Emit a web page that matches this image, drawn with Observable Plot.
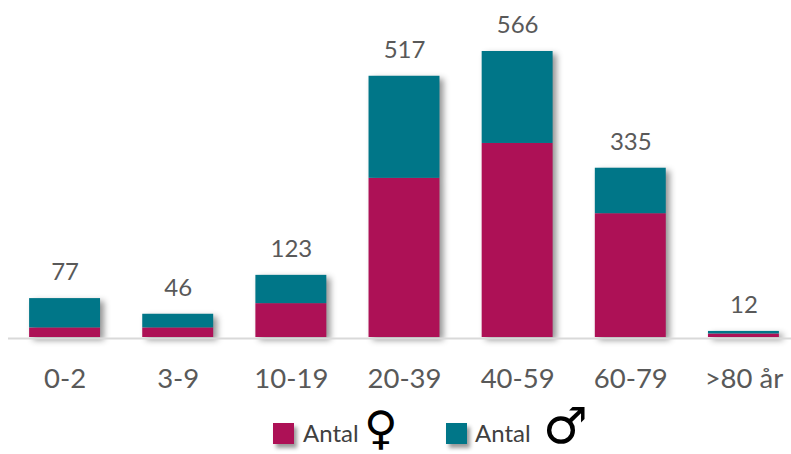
<!DOCTYPE html>
<html>
<head>
<meta charset="utf-8">
<script src="https://cdn.jsdelivr.net/npm/d3@7"></script>
<script src="https://cdn.jsdelivr.net/npm/@observablehq/plot@0.6"></script>
<style>
  html, body { margin: 0; padding: 0; background: #fff; overflow: hidden; }
  body { width: 791px; height: 454px; font-family: Lato, sans-serif; position: relative; }
  #chart svg { display: block; overflow: hidden; }
  .legend { position: absolute; left: 0; top: 405px; width: 791px; height: 49px; color: #404040; font-size: 24px; }
  .swatch { position: absolute; top: 18px; width: 21px; height: 21px; box-shadow: 3px 4px 4px rgba(0,0,0,.4); }
  .name { position: absolute; top: 15px; line-height: 26px; }
  .sym { position: absolute; color: #000; font-family: "DejaVu Sans", sans-serif; font-weight: bold; line-height: 0.8; }
</style>
</head>
<body>
<div id="chart"></div>
<div class="legend">
  <span class="swatch" style="left:273px;background:#ad1156"></span>
  <span class="name" style="left:303px">Antal</span>
  <span class="sym" style="left:364px;top:5px;font-size:46px">♀</span>
  <span class="swatch" style="left:446px;background:#007688"></span>
  <span class="name" style="left:475px">Antal</span>
  <span class="sym" style="left:543px;top:1px;font-size:50px">♂</span>
</div>
<script>
// Patients per age group, split by sex
const ageGroups = ["0-2", "3-9", "10-19", "20-39", "40-59", "60-79", ">80 år"];
const women = [19, 19, 67, 315, 384, 245, 7];
const men = [58, 27, 56, 202, 182, 90, 5];
const totals = [77, 46, 123, 517, 566, 335, 12];

const rows = [
  ...ageGroups.map((group, i) => ({group, sex: "Kvinnor", count: women[i]})),
  ...ageGroups.map((group, i) => ({group, sex: "Män", count: men[i]}))
];
const totalRows = ageGroups.map((group, i) => ({group, total: totals[i]}));

const plot = Plot.plot({
  width: 791,
  height: 405,
  marginLeft: 8,
  marginRight: -9,
  marginBottom: 30,
  x: {domain: ageGroups, paddingInner: 0.373, paddingOuter: 0.1865, round: false, label: null},
  y: {domain: [0, 566], range: [337, 51], axis: null},
  color: {domain: ["Kvinnor", "Män"], range: ["#ad1156", "#007688"]},
  style: {fontFamily: "Lato, sans-serif"},
  marks: [
    Plot.barY(rows, {
      x: "group",
      y: "count",
      fill: "sex",
      order: ["Kvinnor", "Män"],
      imageFilter: "drop-shadow(4px 3px 3px rgba(0,0,0,.42))"
    }),
    Plot.ruleY([0], {stroke: "#d9d9d9", strokeWidth: 2, dy: 1}),
    Plot.text(totalRows, {
      x: "group",
      y: "total",
      text: "total",
      dy: -26,
      fontSize: 24,
      fill: "#595959"
    }),
    Plot.axisX({
      tickSize: 0,
      tickPadding: 0,
      fontSize: 27.5,
      color: "#595959",
      anchor: "bottom",
      label: null,
      dy: -7
    })
  ]
});
document.getElementById("chart").append(plot);
</script>
</body>
</html>
